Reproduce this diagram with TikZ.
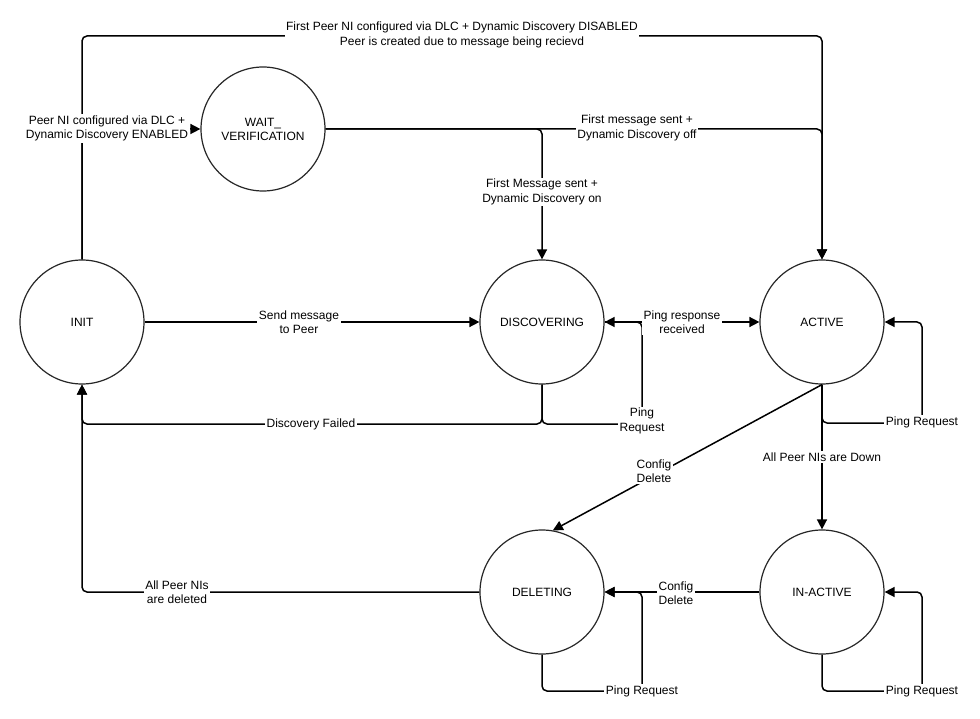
\documentclass[tikz,border=0pt]{standalone}
\usepackage{fontspec}
\setmainfont{Liberation Sans}
\usetikzlibrary{arrows.meta}
\begin{document}
\begin{tikzpicture}[x=1pt,y=-1pt,
  state/.style={circle,draw=black!85,line width=1.2pt,minimum size=124pt,inner sep=0pt,
    font=\fontsize{12}{14}\selectfont,align=center},
  conn/.style={line width=1.5pt,rounded corners=5pt,-{Triangle[length=10pt,width=10pt]}},
  lbl/.style={fill=white,inner sep=1.5pt,font=\fontsize{12}{14.5}\selectfont,align=center}]
\useasboundingbox (0,0) rectangle (980,719);
\fill[white] (0,0) rectangle (980,719);

\node[state] (init) at (82,322) {INIT};
\node[state] (wait) at (263,129) {WAIT\_\\VERIFICATION};
\node[state] (disc) at (542,322) {DISCOVERING};
\node[state] (act) at (822,322) {ACTIVE};
\node[state] (del) at (542,592) {DELETING};
\node[state] (inact) at (822,592) {IN-ACTIVE};

\coordinate (topc) at (450,36);
\coordinate (dfc) at (311,424);
\coordinate (dloop) at (642,424);
\coordinate (aloop) at (922,423);
\coordinate (delloop) at (642,691);
\coordinate (iloop) at (922,691);

% connectors
\draw[conn] (init.north) |- (topc) -| (act.north);
\draw[conn] (init.north) |- (wait.west);
\draw[conn] (wait.east) -| (disc.north);
\draw[conn] (wait.east) -| (act.north);
\draw[conn] (init.east) -- (disc.west);
\draw[conn] (disc.south) |- (dfc) -| (init.south);
\draw[conn] (disc.south) |- (dloop) |- (disc.east);
\draw[conn] (disc.east) -- (act.west);
\draw[conn] (act.south) |- (aloop) |- (act.east);
\draw[conn] (act.south) -- (del.80);
\draw[conn] (act.south) -- (inact.north);
\draw[conn] (inact.west) -- (del.east);
\draw[conn] (del.south) |- (delloop) |- (del.east);
\draw[conn] (inact.south) |- (iloop) |- (inact.east);
\draw[conn] (del.west) -| (init.south);

% labels
\node[lbl] (l1) at (462,35) {First Peer NI configured via DLC + Dynamic Discovery DISABLED\\Peer is created due to message being recievd};
\node[lbl] (l2) at (107,128.5) {Peer NI configured via DLC +\\Dynamic Discovery ENABLED};
\node[lbl] (l3) at (542,192) {First Message sent +\\Dynamic Discovery on};
\node[lbl] (l4) at (637,128) {First message sent +\\Dynamic Discovery off};
\node[lbl] (l5) at (299,322) {Send message\\to Peer};
\node[lbl] (l6) at (311,424) {Discovery Failed};
\node[lbl] (l7) at (642,421) {Ping\\Request};
\node[lbl] (l8) at (682,322) {Ping response\\received};
\node[lbl] (l9) at (922,422) {Ping Request};
\node[lbl] (l10) at (654,471) {Config\\Delete};
\node[lbl] (l11) at (822,457) {All Peer NIs are Down};
\node[lbl] (l12) at (676,593) {Config\\Delete};
\node[lbl] (l13) at (642,691) {Ping Request};
\node[lbl] (l14) at (922,691) {Ping Request};
\node[lbl] (l15) at (177,592) {All Peer NIs\\are deleted};
\end{tikzpicture}
\end{document}
